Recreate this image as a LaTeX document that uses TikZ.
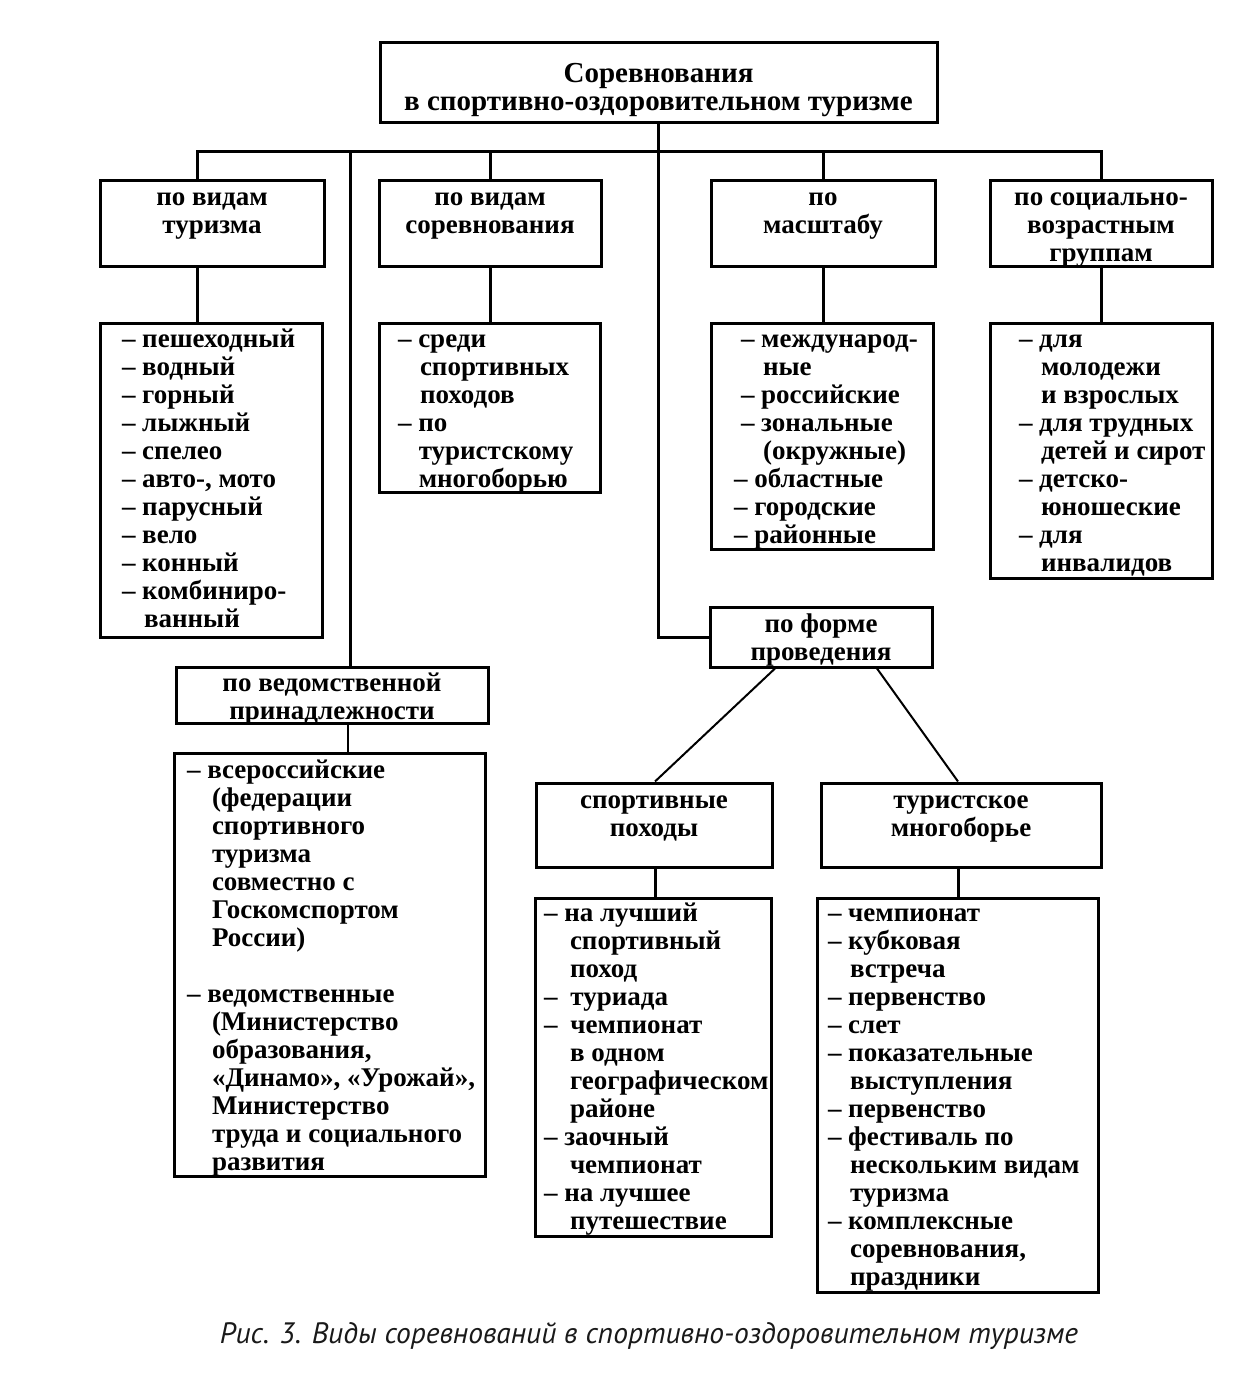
\documentclass[tikz,border=0pt]{standalone}
\usepackage{fontspec}
\setmainfont{Liberation Serif}
\newfontfamily\capfont{PT Sans}
\usetikzlibrary{positioning,calc}

% box texts: label (centred) and item list (left, with pad)
\newcommand\boxlabel[2]{\parbox[t]{#1pt}{\centering #2}}
\newcommand\itemlist[3]{\hspace*{#1pt}\parbox[t]{\dimexpr#2pt-#1pt\relax}{\raggedright #3}}
\newcommand\cnt[1][22]{\hspace*{#1pt}}

\tikzset{
  txt/.style={font=\fontsize{27}{28}\selectfont\bfseries},
  box/.style={txt, draw, line width=3pt, inner sep=0pt},
  hdr/.style={box, font=\fontsize{29}{28}\selectfont\bfseries},
  link/.style={line width=3pt},
  thin/.style={line width=2pt},
  captext/.style={font=\capfont\itshape\fontsize{29.5}{30}\selectfont, text=black!90}
}

\begin{document}
\begin{tikzpicture}[x=1pt, y=-1pt]

\useasboundingbox (0,0) rectangle (1243,1396);

% --- Titre ---
\node[hdr, minimum width=557pt, text height=40pt, text depth=40pt] (top) at (658.5,83)
  {\boxlabel{545}{Соревнования\\в спортивно-оздоровительном туризме}};

% --- Critères (première rangée) ---
\node[box, minimum width=224pt, text height=25pt, text depth=61pt] (tur) at (212,224)
  {\boxlabel{220}{по видам\\туризма}};
\node[box, minimum width=222pt, text height=25pt, text depth=61pt] (vid) at (490,224)
  {\boxlabel{218}{по видам\\соревнования}};
\node[box, minimum width=224pt, text height=25pt, text depth=61pt] (mas) at (823,224)
  {\boxlabel{220}{по\\масштабу}};
\node[box, minimum width=222pt, text height=25pt, text depth=61pt] (soc) at (1101,224)
  {\boxlabel{218}{по социально-\\возрастным\\группам}};

% --- Listes sous la première rangée ---
\node[box, text height=24pt, text depth=290pt] (ltur) at (211,480)
  {\itemlist{22}{222}{– пешеходный\\– водный\\– горный\\– лыжный\\– спелео\\– авто-, мото\\
   – парусный\\– вело\\– конный\\– комбиниро-\\\cnt ванный}};
\node[box, text height=24pt, text depth=145pt] (lvid) at (489.5,407.5)
  {\itemlist{19}{221}{– среди\\\cnt спортивных\\\cnt походов\\– по\\\cnt[14] туристскому\\\cnt[14] многоборью}};
\node[box, text height=24pt, text depth=202pt] (lmas) at (822,436)
  {\itemlist{23}{222}{\cnt[7]– международ-\\\cnt[29]ные\\\cnt[7]– российские\\\cnt[7]– зональные\\\cnt[29](окружные)\\
   – областные\\– городские\\– районные}};
\node[box, text height=24pt, text depth=231pt] (lsoc) at (1101,450.5)
  {\itemlist{29}{222}{– для\\\cnt молодежи\\\cnt и взрослых\\– для трудных\\\cnt детей и сирот\\
   – детско-\\\cnt юношеские\\– для\\\cnt инвалидов}};

% --- Branche ministérielle ---
\node[box, minimum width=312pt, text height=24pt, text depth=32pt] (ved) at (332,695)
  {\boxlabel{300}{по ведомственной\\принадлежности}};
\node[box, text height=25pt, text depth=398pt] (lved) at (329.5,964.5)
  {\itemlist{13}{311}{– всероссийские\\\cnt[25](федерации\\\cnt[25]спортивного\\\cnt[25]туризма\\
   \cnt[25]совместно с\\\cnt[25]Госкомспортом\\\cnt[25]России)\\[28pt]
   – ведомственные\\\cnt[25](Министерство\\\cnt[25]образования,\\\cnt[25]«Динамо», «Урожай»,\\
   \cnt[25]Министерство\\\cnt[25]труда и социального\\\cnt[25]развития}};

% --- Forme ---
\node[box, minimum width=222pt, text height=25pt, text depth=35pt] (form) at (821,637)
  {\boxlabel{218}{по форме\\проведения}};
\node[box, minimum width=236pt, text height=25pt, text depth=59pt] (pokh) at (654,825)
  {\boxlabel{230}{спортивные\\походы}};
\node[box, minimum width=280pt, text height=25pt, text depth=59pt] (mnog) at (961,825)
  {\boxlabel{270}{туристское\\многоборье}};
\node[box, text height=23pt, text depth=315pt] (lpokh) at (653,1067)
  {\itemlist{9}{236}{– на лучший\\\cnt[26]спортивный\\\cnt[26]поход\\–\cnt[13]туриада\\–\cnt[13]чемпионат\\
   \cnt[26]в одном\\\cnt[26]географическом\\\cnt[26]районе\\– заочный\\\cnt[26]чемпионат\\
   – на лучшее\\\cnt[26]путешествие}};
\node[box, text height=23pt, text depth=371pt] (lmnog) at (957.5,1095)
  {\itemlist{11}{281}{– чемпионат\\– кубковая\\\cnt встреча\\– первенство\\– слет\\– показательные\\
   \cnt выступления\\– первенство\\– фестиваль по\\\cnt нескольким видам\\\cnt туризма\\
   – комплексные\\\cnt соревнования,\\\cnt праздники}};

% --- Liaisons ---
\coordinate (bus) at (0,152);
\coordinate (tx) at (197,0);
\coordinate (vx) at (350,0);
\draw[link] (tx |- tur.north) -- (tx |- bus) -| (soc.north);
\draw[link] (vid.north) -- (vid.north |- bus);
\draw[link] (mas.north) -- (mas.north |- bus);
\draw[link] (vx |- bus) -- (vx |- ved.north);
\draw[link] (top.south) |- (form.west);

\draw[link] (tx |- tur.south) -- (tx |- ltur.north);
\draw[link] (vid.south) -- (vid.south |- lvid.north);
\draw[link] (mas.south) -- (mas.south |- lmas.north);
\draw[link] (soc.south) -- (soc.south |- lsoc.north);

\draw[thin] ($(vx |- ved.south)+(-2,0)$) -- ($(vx |- lved.north)+(-2,0)$);
\draw[thin] ($(form.south)+(-46,0)$) -- ($(pokh.north)+(1,0)$);
\draw[thin] ($(form.south)+(56,0)$) -- ($(mnog.north)+(-3,0)$);
\draw[link] ($(pokh.south)+(1,0)$) -- ($(pokh.south |- lpokh.north)+(1,0)$);
\draw[link] ($(mnog.south)+(-3,0)$) -- ($(mnog.south |- lmnog.north)+(-3,0)$);

% --- Légende ---
\node[captext] (caption) at (649,1336) {Рис. 3. Виды соревнований в спортивно-оздоровительном туризме};

\end{tikzpicture}
\end{document}
